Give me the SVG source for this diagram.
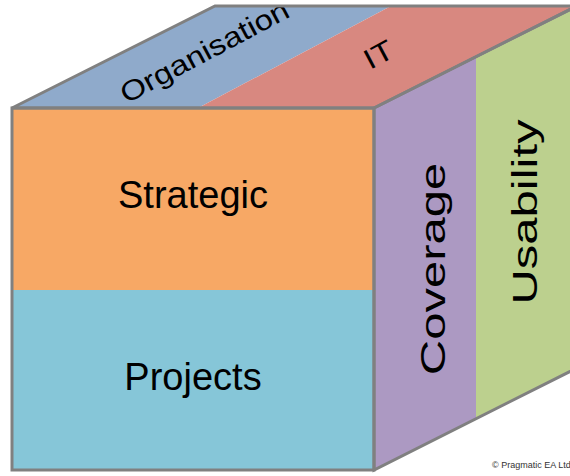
<svg xmlns="http://www.w3.org/2000/svg" width="570" height="476" viewBox="0 0 570 476">
<style>
.edge{fill:none;stroke:#808080;stroke-width:3;stroke-linejoin:miter}
.lbl{font-family:"Liberation Sans",Arial,sans-serif;fill:#000;text-anchor:middle}
.front{font-size:38px}
.side{font-size:49px}
.top{font-size:33px}
.copy{font-family:"Liberation Sans",Arial,sans-serif;font-size:9px;fill:#333}
</style>
<rect width="570" height="476" fill="#fff"/>
<g id="organisation">
<polygon points="12,108 215,6 391,6 198,108" fill="#8FAACB"/>
<text class="lbl top" transform="translate(209,60) rotate(-28) scale(1,0.85)">Organisation</text>
</g>
<g id="it">
<polygon points="198,108 391,6 577,6 374,108" fill="#D88880"/>
<text class="lbl top" transform="translate(383,63) rotate(-28) scale(1,0.85)">IT</text>
</g>
<g id="coverage">
<polygon points="374,108 476,57 476,419 374,470" fill="#AC99C2"/>
<text class="lbl side" transform="translate(445,269) rotate(-90) scale(1,0.72)">Coverage</text>
</g>
<g id="usability">
<polygon points="476,57 577,6 577,368 476,419" fill="#BCD08E"/>
<text class="lbl side" transform="translate(537,212) rotate(-90) scale(1,0.72)">Usability</text>
</g>
<g id="strategic">
<rect x="12" y="108" width="362" height="182" fill="#F7A865"/>
<text class="lbl front" x="193" y="208">Strategic</text>
</g>
<g id="projects">
<rect x="12" y="290" width="362" height="180" fill="#86C6D8"/>
<text class="lbl front" x="193" y="390">Projects</text>
</g>
<g id="edges">
<polygon class="edge" points="12,108 215,6 577,6 374,108"/>
<polygon class="edge" points="374,108 577,6 577,368 374,470"/>
<rect class="edge" x="12" y="108" width="362" height="362"/>
</g>
<text class="copy" x="492" y="468">© Pragmatic EA Ltd</text>
</svg>
